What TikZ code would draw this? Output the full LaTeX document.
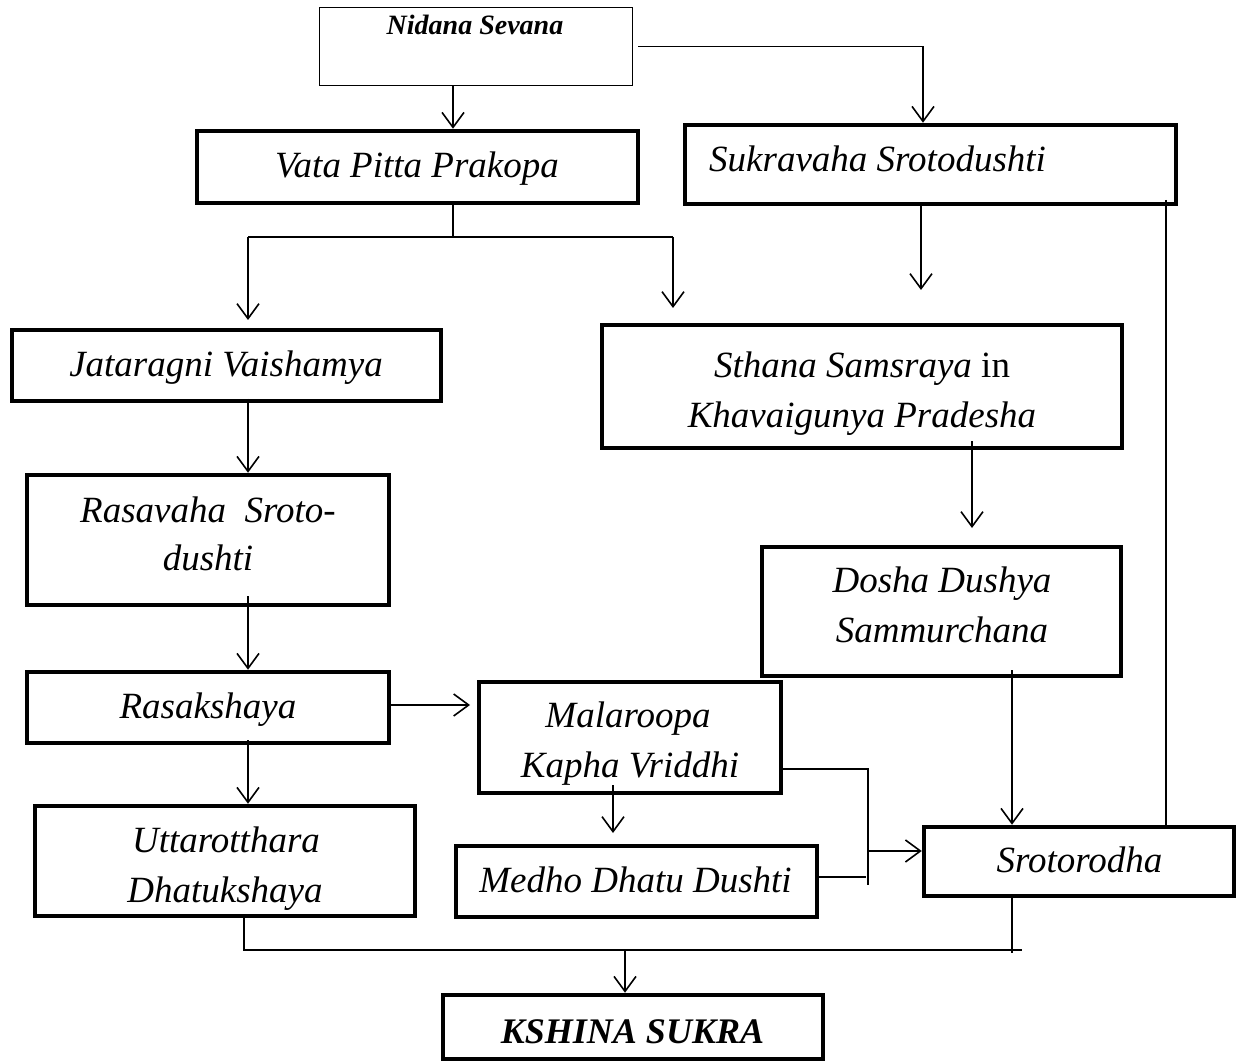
\documentclass[tikz,border=0pt]{standalone}
\usepackage{fontspec}
\setmainfont{Liberation Serif}
\usetikzlibrary{arrows.meta}
\begin{document}
\begin{tikzpicture}[x=1pt,y=-1pt,
  box/.style={draw, rectangle, line width=4.5pt, inner sep=0pt},
  thinbox/.style={draw, rectangle, line width=1.3pt, inner sep=0pt},
  txt/.style={anchor=base, inner sep=0pt, font=\fontsize{37}{50}\selectfont\itshape},
  con/.style={line width=1.6pt},
  arr/.style={line width=1.6pt, -{Straight Barb[length=15pt,width=22pt]}}]
\useasboundingbox (0,0) rectangle (1237,1064);
% boxes
\node[thinbox, minimum width=313pt, minimum height=78pt] (nid) at (476,46.5) {};
\node[box, minimum width=441pt, minimum height=72pt] (vata) at (417.5,167) {};
\node[box, minimum width=491pt, minimum height=79pt] (suk) at (930.5,164.5) {};
\node[box, minimum width=429pt, minimum height=71pt] (jat) at (226.5,365.5) {};
\node[box, minimum width=520pt, minimum height=123pt] (sth) at (862,386.5) {};
\node[box, minimum width=362pt, minimum height=130pt] (rav) at (208,540) {};
\node[box, minimum width=359pt, minimum height=129pt] (dos) at (941.5,611.5) {};
\node[box, minimum width=362pt, minimum height=71pt] (rsk) at (208,707.5) {};
\node[box, minimum width=302pt, minimum height=111pt] (mal) at (630,737.5) {};
\node[box, minimum width=380pt, minimum height=110pt] (utt) at (225,861) {};
\node[box, minimum width=361pt, minimum height=71pt] (med) at (636.5,881.5) {};
\node[box, minimum width=310pt, minimum height=69pt] (sro) at (1079,861.5) {};
\node[box, minimum width=380pt, minimum height=64pt] (ksh) at (633,1027) {};
% texts
\node[anchor=base, inner sep=0pt, font=\fontsize{28}{30}\selectfont\bfseries\itshape] (nidT) at (475,35) {Nidana Sevana};
\node[txt] (vataT) at (417,178) {Vata Pitta Prakopa};
\node[txt, anchor=base west] (sukT) at (709,172) {Sukravaha Srotodushti};
\node[txt] (jatT) at (226,377) {Jataragni Vaishamya};
\node[txt] (sthT1) at (862,378) {Sthana Samsraya \upshape in};
\node[txt] (sthT2) at (862,428) {Khavaigunya Pradesha};
\node[txt] (ravT1) at (208,522) {Rasavaha\ \ Sroto-};
\node[txt] (ravT2) at (208,570) {dushti};
\node[txt] (dosT1) at (942,592) {Dosha Dushya};
\node[txt] (dosT2) at (942,642) {Sammurchana};
\node[txt] (rskT) at (208,718) {Rasakshaya};
\node[txt] (malT1) at (628,727) {Malaroopa};
\node[txt] (malT2) at (630,777) {Kapha Vriddhi};
\node[txt] (uttT1) at (226,852) {Uttarotthara};
\node[txt] (uttT2) at (225,902) {Dhatukshaya};
\node[txt] (medT) at (635.5,892) {Medho Dhatu Dushti};
\node[txt] (sroT) at (1079.5,872) {Srotorodha};
\node[anchor=base, inner sep=0pt, font=\fontsize{36}{40}\selectfont\bfseries\itshape] (kshT) at (632.5,1043) {KSHINA SUKRA};
% coordinates
\coordinate (a1) at (453,237);
\coordinate (a2) at (923,48);
\coordinate (a3) at (248,237);
\coordinate (a4) at (673,237);
\coordinate (e1) at (248,320);
\coordinate (e2) at (673,308);
\coordinate (a5) at (921,290);
\coordinate (a6) at (1166,200);
\coordinate (a7) at (248,399);
\coordinate (a8) at (248,596);
\coordinate (a9) at (972,441);
\coordinate (a10) at (972,528);
\coordinate (a11) at (470,705);
\coordinate (a12) at (248,740);
\coordinate (a13) at (613,785);
\coordinate (a14) at (613,833);
\coordinate (a15) at (1012,670);
\coordinate (b1) at (868,769);
\coordinate (b2) at (868,885);
\coordinate (b3) at (866,877);
\coordinate (b4) at (868,851);
\coordinate (c1) at (244,915);
\coordinate (c2) at (244,950);
\coordinate (c3) at (1022,950);
\coordinate (c4) at (1012,895);
\coordinate (c5) at (1012,953);
\coordinate (c6) at (625,950);
% connectors
\draw[arr] (nid.south -| a1) -- (vata.north -| a1);
\draw[arr] ([xshift=5pt]nid.east) -| (suk.north -| a2);
\draw[con] (vata.south -| a1) -- (a1);
\draw[con] (a3) -- (a4);
\draw[arr] (a3) -- (e1);
\draw[arr] (a4) -- (e2);
\draw[arr] (suk.south -| a5) -- (a5);
\draw[con] (a6) -- (sro.north -| a6);
\draw[arr] (a7) -- (rav.north -| a7);
\draw[arr] (a8) -- (rsk.north -| a8);
\draw[arr] (a9) -- (a10);
\draw[arr] (rsk.east |- a11) -- (a11);
\draw[arr] (a12) -- (utt.north -| a12);
\draw[arr] (a13) -- (a14);
\draw[arr] (a15) -- (sro.north -| a15);
\draw[con] (mal.east |- b1) -- (b1) -- (b2);
\draw[con] (med.east |- b3) -- (b3);
\draw[arr] (b4) -- (sro.west |- b4);
\draw[con] (c1) -- (c2) -- (c3);
\draw[con] (c4) -- (c5);
\draw[arr] (c6) -- (ksh.north -| c6);
\end{tikzpicture}
\end{document}
